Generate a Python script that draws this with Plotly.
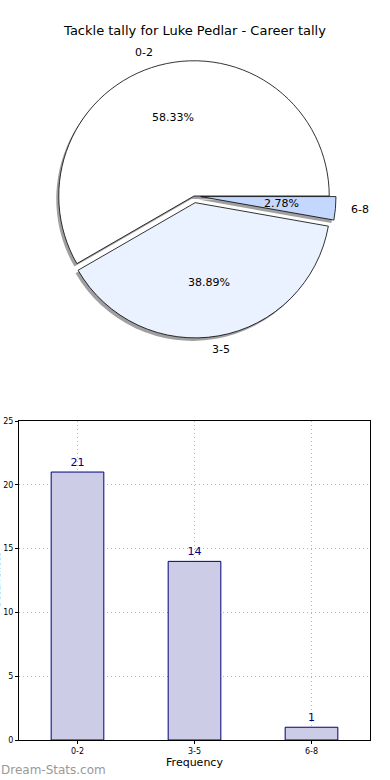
import math
import plotly.graph_objects as go

categories = ["0-2", "3-5", "6-8"]
counts = [21, 14, 1]
pie_colors = ["#FFFFFF", "#EAF1FF", "#C4D8FF"]
pulls = [0, 0.05, 0.05]
title_text = "Tackle tally for Luke Pedlar - Career tally"

W, H = 390, 780

def px_x(p):
    return p / W

def px_y(p):
    return 1 - p / H

# pie geometry (pixels)
cx, cy, half = 194, 196, 142
max_pull = max(pulls)
r_px = half / (1 + max_pull)
dom_x = [px_x(cx - half), px_x(cx + half)]
dom_y = [px_y(cy + half), px_y(cy - half)]
sdx, sdy = -2.5 / W, -3 / H

total = sum(counts)
# first slice starts at 3 o'clock going counterclockwise (plotly rotation defines clockwise edge)
rotation = 90 - 360 * counts[0] / total

fig = go.Figure()

# shadow pie
fig.add_trace(go.Pie(
    labels=categories, values=counts, sort=False, direction="counterclockwise",
    rotation=rotation, pull=pulls,
    marker=dict(colors=["rgba(128,128,128,0.75)"] * 3, line=dict(width=0)),
    textinfo="none",
    domain=dict(x=[dom_x[0] + sdx, dom_x[1] + sdx], y=[dom_y[0] + sdy, dom_y[1] + sdy]),
    showlegend=False, hoverinfo="skip",
))

fig.add_trace(go.Pie(
    labels=categories, values=counts, sort=False, direction="counterclockwise",
    rotation=rotation, pull=pulls,
    marker=dict(colors=pie_colors, line=dict(color="black", width=0.8)),
    textinfo="none",
    domain=dict(x=dom_x, y=dom_y),
    showlegend=False,
))

# percentage and category labels, placed like matplotlib (pctdistance 0.6, labeldistance 1.1)
start = 0.0
for cat, v, pl in zip(categories, counts, pulls):
    frac = v / total
    mid = math.radians((start + frac / 2) * 360)
    start += frac
    ox = pl * r_px * math.cos(mid)
    oy = pl * r_px * math.sin(mid)
    px_p = cx + ox + 0.6 * r_px * math.cos(mid)
    py_p = cy - oy - 0.6 * r_px * math.sin(mid)
    fig.add_annotation(text=f"{frac*100:.2f}%", xref="paper", yref="paper",
                       x=px_x(px_p), y=px_y(py_p), showarrow=False,
                       xanchor="center", yanchor="middle",
                       font=dict(size=11, color="black", family="DejaVu Sans"))
    lx = cx + ox + 1.1 * r_px * math.cos(mid)
    ly = cy - oy - 1.1 * r_px * math.sin(mid)
    fig.add_annotation(text=cat, xref="paper", yref="paper",
                       x=px_x(lx), y=px_y(ly), showarrow=False,
                       xanchor="left" if math.cos(mid) > 0.2 else ("right" if math.cos(mid) < -0.2 else "center"),
                       yanchor="middle",
                       font=dict(size=11, color="black", family="DejaVu Sans"))

fig.add_trace(go.Bar(
    x=categories, y=counts, width=0.45,
    marker=dict(color="#CCCCE6", line=dict(color="#000080", width=1)),
    text=[str(c) for c in counts], textposition="outside",
    textfont=dict(family="DejaVu Sans", size=11, color="#000080"),
    cliponaxis=False, showlegend=False,
    xaxis="x", yaxis="y",
))

grid = dict(showgrid=True, gridcolor="#b8b8b8", griddash="1px,3px", gridwidth=1)
fig.update_layout(
    width=W, height=H,
    margin=dict(l=0, r=0, t=0, b=0),
    paper_bgcolor="white", plot_bgcolor="white",
    font=dict(family="DejaVu Sans", color="black"),
    title=dict(text=title_text, x=0.5, xanchor="center", y=px_y(30), yanchor="middle",
               font=dict(size=13, family="DejaVu Sans", color="black")),
    xaxis=dict(domain=[px_x(19), px_x(370)], range=[-0.5, 2.5], type="category",
               showline=True, mirror=True, linecolor="black", linewidth=1,
               ticks="outside", ticklen=3, tickcolor="black",
               tickfont=dict(size=8), automargin=False,
               title=dict(text="Frequency", font=dict(size=11), standoff=1),
               **grid),
    yaxis=dict(domain=[px_y(740), px_y(421)], range=[0, 25], dtick=5,
               showline=True, mirror=True, linecolor="black", linewidth=1,
               ticks="outside", ticklen=3, tickcolor="black",
               tickfont=dict(size=8), automargin=False, zeroline=False,
               **grid),
)

fig.add_annotation(text="Occurrences", xref="paper", yref="paper",
                   x=px_x(-3), y=px_y(580), textangle=-90, showarrow=False,
                   font=dict(size=9, color="black"), xanchor="center", yanchor="middle")
fig.add_annotation(text="Dream-Stats.com", xref="paper", yref="paper",
                   x=px_x(-1), y=px_y(770), xanchor="left", yanchor="middle", showarrow=False,
                   font=dict(size=12, color="#999999", family="DejaVu Sans"))

fig.write_html("out.html", config={"displayModeBar": False},
               post_script="document.body.style.margin='0';")
